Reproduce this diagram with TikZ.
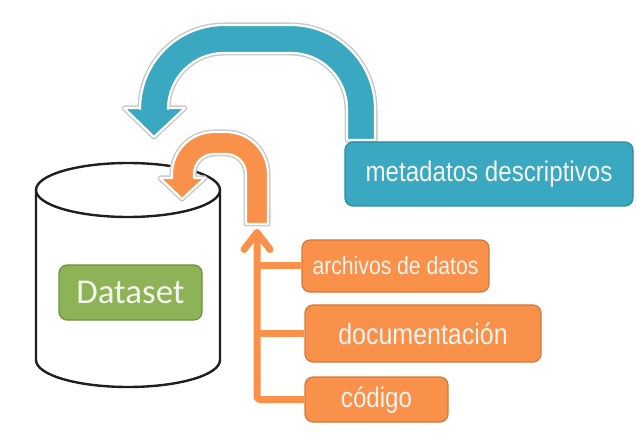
\documentclass[tikz,border=0pt]{standalone}
\usepackage{fontspec}
\setmainfont{Liberation Sans}
\newfontfamily\narrowfont[FakeStretch=0.85]{Liberation Sans}
\newfontfamily\dsfont{Carlito}
\usetikzlibrary{arrows.meta}
\definecolor{tealfill}{HTML}{3AA8C1}
\definecolor{tealedge}{HTML}{2C8CA2}
\definecolor{orfill}{HTML}{F9914A}
\definecolor{oredge}{HTML}{D2783A}
\definecolor{grfill}{HTML}{8DB356}
\definecolor{gredge}{HTML}{6F9241}
\definecolor{txtlight}{HTML}{F4F4F0}
\tikzset{
  box/.style={rounded corners=8bp, inner sep=0pt, line width=1.2bp, text=txtlight, align=center},
  blockglow/.style={draw=black!22, line width=5bp, line join=round},
  blockfill/.style={draw=white, line width=2.2bp, line join=round},
  orline/.style={draw=orfill, line width=7bp, line join=round},
  cyl/.style={draw=black!88, line width=2.4bp, fill=white},
}
\begin{document}
\begin{tikzpicture}[x=1bp,y=-1bp]
\useasboundingbox (0,0) rectangle (636,435);

% blue U-turn block arrow
\def\bluepath{(375,140) -- (375,109) arc[start angle=0,end angle=-90,radius=84] -- (224,25) arc[start angle=-90,end angle=-180,radius=84] -- (140,108) -- (124,108) -- (154,137) -- (185,108) -- (168,108) -- (168,109) arc[start angle=180,end angle=270,radius=56] -- (291,53) arc[start angle=270,end angle=360,radius=56] -- (347,140) -- cycle}
\path[blockglow] \bluepath;
\path[blockfill, fill=tealfill] \bluepath;

% metadatos box
\node[box, fill=tealfill, draw=tealedge, minimum width=288bp, minimum height=64bp,
      font=\narrowfont\fontsize{28.5}{30}\selectfont] (meta) at (489,174) {metadatos descriptivos};

% cylinder
\draw[cyl] (36,190) -- (36,360) arc[start angle=180,end angle=0,x radius=92,y radius=27] -- (220,190);
\draw[cyl] (128,190) ellipse[x radius=92,y radius=27];

% Dataset
\node[box, fill=grfill, draw=gredge, minimum width=143bp, minimum height=55bp,
      font=\dsfont\fontsize{35}{37}\selectfont] (ds) at (130.5,292.5) {Dataset};

% orange U-turn block arrow
\def\orpath{(268,224) -- (268,174) arc[start angle=0,end angle=-90,radius=42] -- (214,132) arc[start angle=-90,end angle=-180,radius=42] -- (172,178) -- (160,178) -- (182,199) -- (205,178) -- (194,178) -- (194,174) arc[start angle=180,end angle=270,radius=20] -- (226,154) arc[start angle=270,end angle=360,radius=20] -- (246,224) -- cycle}
\path[blockglow] \orpath;
\path[blockfill, fill=orfill] \orpath;

% component boxes
\node[box, fill=orfill, draw=oredge, minimum width=187bp, minimum height=52bp,
      font=\narrowfont\fontsize{25}{27}\selectfont] (arch) at (395.5,266) {archivos de datos};
\node[box, fill=orfill, draw=oredge, minimum width=236bp, minimum height=57bp,
      font=\narrowfont\fontsize{29.5}{31}\selectfont] (doc) at (423,333.5) {documentación};
\node[box, fill=orfill, draw=oredge, minimum width=143bp, minimum height=45bp,
      font=\narrowfont\fontsize{28.5}{30}\selectfont] (cod) at (376.5,399.5) {código};

% connectors
\coordinate (corner) at (257,399.5);
\coordinate (tip) at (257,229);
\draw[orline, rounded corners=3bp, -{Straight Barb[round,length=17bp,width=26bp]}] (cod.west) -- (corner) -- (tip);
\draw[orline] (arch.west) -- (arch.west -| corner);
\draw[orline] (doc.west) -- (doc.west -| corner);
\end{tikzpicture}
\end{document}
